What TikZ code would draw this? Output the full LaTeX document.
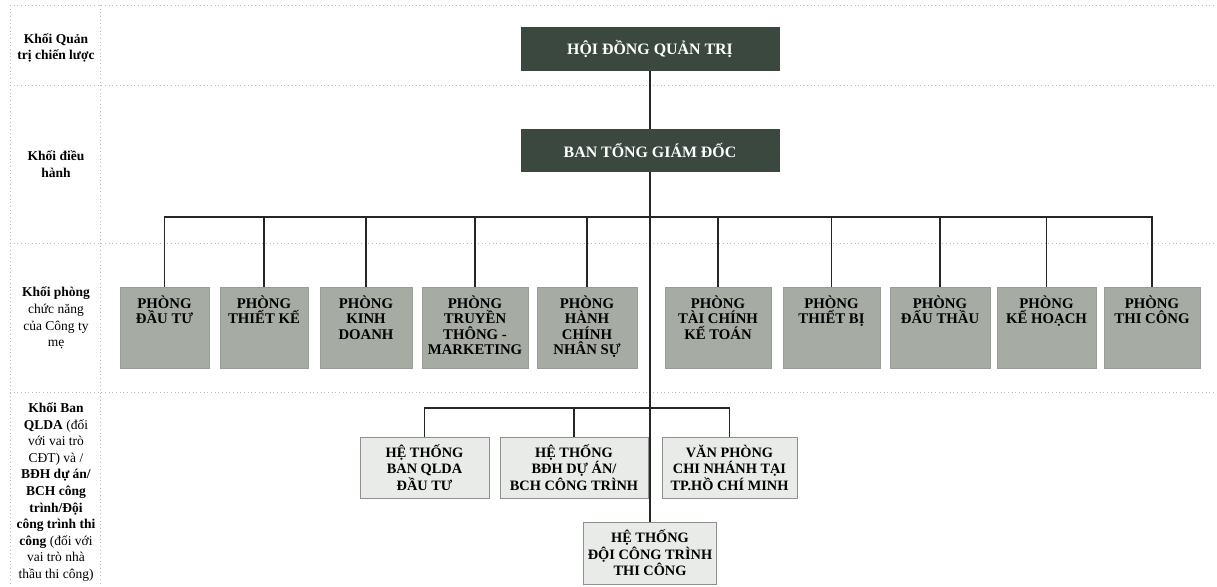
\documentclass[tikz,border=0pt]{standalone}
\usepackage{fontspec}
\setmainfont{Liberation Serif}
\usepackage{xcolor}
\usetikzlibrary{positioning}
\definecolor{boarddark}{RGB}{58,72,64}
\definecolor{deptgrey}{RGB}{166,171,164}
\definecolor{unitlight}{RGB}{232,235,231}
\definecolor{unitedge}{RGB}{140,145,140}
\definecolor{gridgrey}{RGB}{185,185,185}
\setlength{\unitlength}{0.025cm}

\begin{document}
\begin{tikzpicture}[x=\unitlength, y=-\unitlength,
  topbox/.style={font=\fontsize{11.3}{12}\selectfont\bfseries, fill=boarddark, text=white,
                 minimum width=259\unitlength, minimum height=44\unitlength, inner sep=0},
  deptbox/.style={font=\fontsize{10.5}{11}\selectfont\bfseries, fill=deptgrey,
                  draw=deptgrey!92!black, line width=0.3pt, inner sep=0},
  unitbox/.style={font=\fontsize{10.2}{11.8}\selectfont\bfseries, fill=unitlight, draw=unitedge,
                  line width=0.5pt, align=center, minimum height=61\unitlength, inner sep=0},
  rowlabel/.style={font=\fontsize{9.6}{11.8}\selectfont, align=center, inner sep=0},
  rowlabelbold/.style={rowlabel, font=\fontsize{9.6}{11.8}\selectfont\bfseries},
  link/.style={draw=black!85, line width=0.8pt},
  gridline/.style={draw=gridgrey, dotted, line width=0.6pt}]
  \useasboundingbox (0,0) rectangle (1217,586);

  \draw[gridline] (10,5) -- (1217,5) (10,85) -- (1217,85) (10,243) -- (1217,243)
                  (10,392) -- (1217,392) (10,5) -- (10,586) (100,5) -- (100,586);

  \node[rowlabelbold] (lab1) at (56,48) {Khối Quản\\trị chiến lược};
  \node[rowlabelbold] (lab2) at (56,164) {Khối điều\\hành};
  \node[rowlabel] (lab3) at (56,318) {\textbf{Khối phòng}\\chức năng\\của Công ty\\mẹ};
  \node[rowlabel] (lab4) at (56,492)
       {\textbf{Khối Ban}\\\textbf{QLDA} (đối\\với vai trò\\CĐT) và /\\\textbf{BĐH dự án/}\\
        \textbf{BCH công}\\\textbf{trình/Đội}\\\textbf{công trình thi}\\\textbf{công} (đối với\\
        vai trò nhà\\thầu thi công)};

  \node[topbox] (hdqt) at (650,49) {HỘI ĐỒNG QUẢN TRỊ};
  \node[topbox, minimum height=43\unitlength] (btgd) at (650,150.5) {BAN TỔNG GIÁM ĐỐC};

  \foreach \n/\x/\w/\t in {1/164.5/89/{PHÒNG\\ĐẦU TƯ}, 2/264/88/{PHÒNG\\THIẾT KẾ},
      3/366/92/{PHÒNG\\KINH\\DOANH}, 4/475/106/{PHÒNG\\TRUYỀN\\THÔNG -\\MARKETING},
      5/587/100/{PHÒNG\\HÀNH\\CHÍNH\\NHÂN SỰ}, 6/718/106/{PHÒNG\\TÀI CHÍNH\\KẾ TOÁN},
      7/831.5/97/{PHÒNG\\THIẾT BỊ}, 8/940/100/{PHÒNG\\ĐẤU THẦU},
      9/1046.5/99/{PHÒNG\\KẾ HOẠCH}, 10/1152/96/{PHÒNG\\THI CÔNG}}
    \node[deptbox] (p\n) at (\x,327.5)
         {\parbox[c][81\unitlength][t]{\w\unitlength}{\centering\vspace{6pt}\t}};

  \node[unitbox, minimum width=129\unitlength] (qlda) at (424.5,467.5) {HỆ THỐNG\\BAN QLDA\\ĐẦU TƯ};
  \node[unitbox, minimum width=148\unitlength] (bdh) at (574,467.5) {HỆ THỐNG\\BĐH DỰ ÁN/\\BCH CÔNG TRÌNH};
  \node[unitbox, minimum width=135\unitlength] (vpcn) at (729.5,467.5) {VĂN PHÒNG\\CHI NHÁNH TẠI\\TP.HỒ CHÍ MINH};
  \node[unitbox, minimum width=133\unitlength, minimum height=62\unitlength] (doi) at (650,553)
       {HỆ THỐNG\\ĐỘI CÔNG TRÌNH\\THI CÔNG};

  \coordinate (bus) at (650,217);
  \coordinate (subbus) at (650,408);
  \draw[link] (hdqt) -- (btgd);
  \draw[link] (btgd.south) -- (doi.north);
  \foreach \n in {1,...,10}
    \draw[link] (bus) -| (p\n.north);
  \foreach \u in {qlda,bdh,vpcn}
    \draw[link] (subbus) -| (\u.north);
\end{tikzpicture}
\end{document}
